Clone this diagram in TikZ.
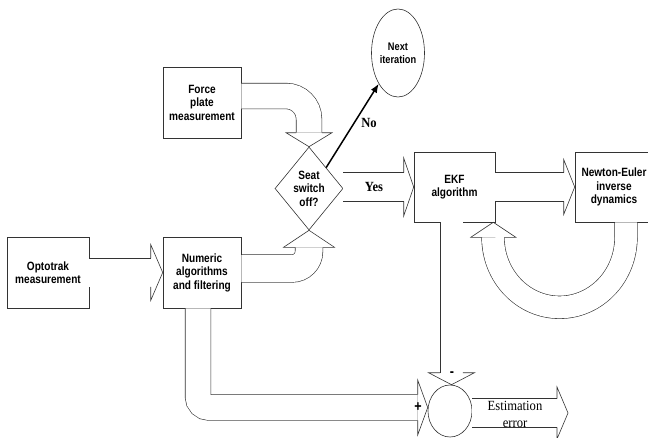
\documentclass[tikz,border=0pt]{standalone}
\usepackage{fontspec}
\setmainfont{Liberation Serif}
\newfontfamily\boxfont[FakeStretch=0.84]{Liberation Sans}
\newfontfamily\capfont[FakeStretch=0.9]{Liberation Serif}
\usetikzlibrary{arrows.meta,shapes.geometric}
\tikzset{
  box/.style={draw=black!80, line width=.6pt, align=center, inner sep=0pt,
    font=\boxfont\bfseries\fontsize{12}{13.5}\selectfont},
  test/.style={box, diamond, aspect=0.82, minimum width=68, minimum height=83},
  term/.style={box, ellipse, minimum width=53, minimum height=88,
    font=\boxfont\bfseries\fontsize{11}{13}\selectfont},
  sumpt/.style={box, ellipse, minimum width=44, minimum height=52},
  shaft/.style={draw=black!80, line width=.6pt, double=white, double distance=#1},
  shaft/.default=28,
  noarr/.style={line width=1.5pt, -{Latex[length=9pt, width=7pt]}},
  lbl/.style={font=\capfont\bfseries\fontsize{14}{16}\selectfont, inner sep=0pt},
  elbl/.style={font=\capfont\fontsize{14}{17}\selectfont, align=center, inner sep=0pt},
  sgn/.style={font=\boxfont\bfseries\fontsize{15}{15}\selectfont, inner sep=0pt},
  % open block arrow head: shaft width, head width, head length
  pics/bhead/.style n args={3}{code={
    \draw[draw=black!80, line width=.6pt]
      (-#3,{#1/2+.3}) -- (-#3,{#2/2}) -- (0,0) -- (-#3,{-#2/2}) -- (-#3,{-#1/2-.3});
  }}
}
\begin{document}
\begin{tikzpicture}[x=1pt, y=-1pt]
  \useasboundingbox (0,0) rectangle (648,437);
  % blocks
  \node[box, minimum width=82, minimum height=71] (opto) at (48,272.5) {Optotrak\\measurement};
  \node[box, minimum width=78, minimum height=71] (num) at (202,272.5) {Numeric\\algorithms\\and filtering};
  \node[box, minimum width=78, minimum height=71] (force) at (202,102.5) {Force\\plate\\measurement};
  \node[test] (seat) at (309,188.5) {Seat\\switch\\off?};
  \node[box, minimum width=81, minimum height=70] (ekf) at (454.5,187) {EKF\\algorithm};
  \node[box, minimum width=78, minimum height=70] (newton) at (614,187) {Newton-Euler\\inverse\\dynamics};
  \node[term] (next) at (398,53) {Next\\iteration};
  \node[sumpt] (sum) at (450,411) {};
  \coordinate (errtip) at (568,413);
  % block arrows
  \draw[shaft] (opto.east) -- ([xshift=-12]num.west);
  \pic at (num.west) {bhead={28}{56}{12}};
  \draw[shaft=25, rounded corners=23] ([yshift=6.5]force.east) -| ([yshift=14]seat.north);
  \pic[rotate=-90] at (seat.north) {bhead={25}{46}{14}};
  \draw[shaft=27, rounded corners=17] ([yshift=4]num.east) -| ([yshift=-17]seat.south);
  \pic[rotate=90] at (seat.south) {bhead={27}{51}{17}};
  \draw[shaft] (seat.east |- ekf.west) -- ([xshift=-10]ekf.west);
  \pic at (ekf.west) {bhead={28}{58}{10}};
  \node[lbl] (yes) at (374,187) {Yes};
  \draw[shaft] (ekf.east) -- ([xshift=-11]newton.west);
  \pic at (newton.west) {bhead={28}{55}{11}};
  \draw[shaft=22] ([xshift=12]newton.south) -- ++(0,15)
    arc[start angle=0, end angle=180, x radius=66.5, y radius=70];
  \pic[rotate=90] at ([xshift=-2]ekf.south east) {bhead={22}{45}{15}};
  \draw[shaft=22] ([xshift=-3]ekf.south) -- ([xshift=1.5, yshift=12]sum.north);
  \pic[rotate=-90] at ([xshift=1.5]sum.north) {bhead={22}{46}{12}};
  \node[sgn] (minus) at (452,374) {-};
  \draw[shaft=25, rounded corners=11] ([xshift=-4]num.south) |- ([xshift=-10, yshift=3.5]sum.west);
  \pic at ([yshift=3.5]sum.west) {bhead={25}{55}{10}};
  \node[sgn] (plus) at (418,407) {+};
  \draw[shaft] ([yshift=-2]sum.east) -- ([xshift=-11]errtip);
  \pic at (errtip) {bhead={28}{52}{11}};
  \node[elbl] (err) at (515,414) {Estimation\\error};
  % no branch
  \draw[noarr] (seat.north east) -- (next);
  \node[lbl] (no) at (369,123) {No};
\end{tikzpicture}
\end{document}
